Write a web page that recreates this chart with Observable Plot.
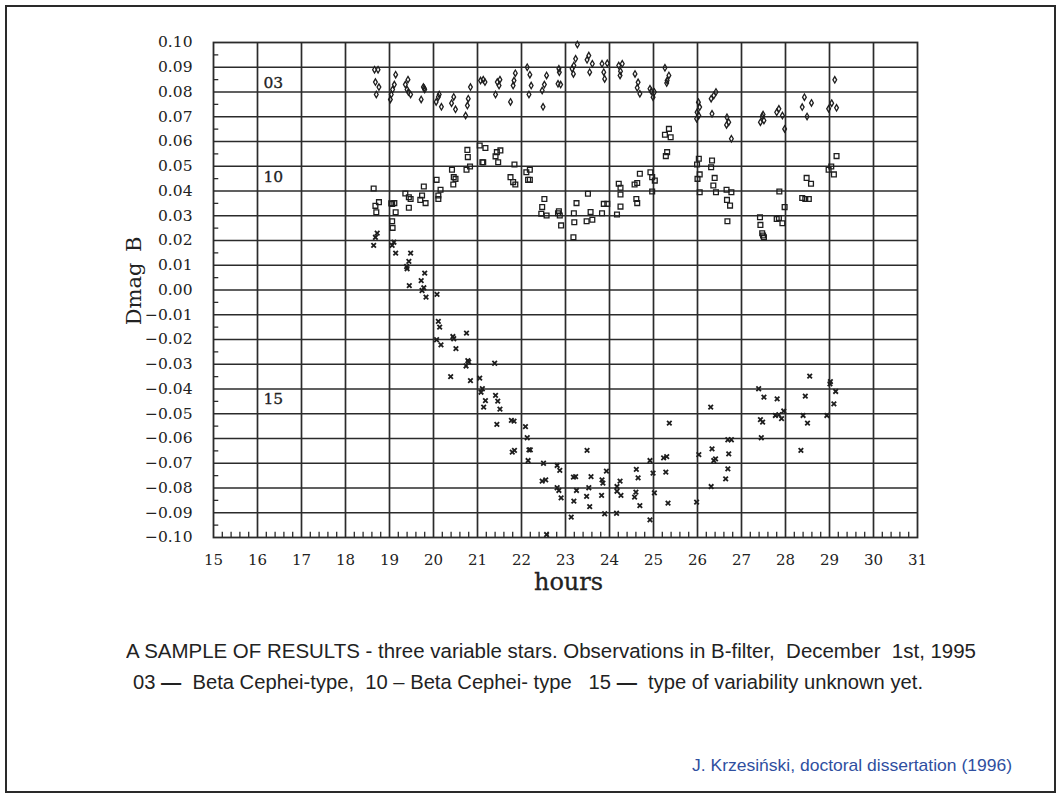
<!DOCTYPE html>
<html><head><meta charset="utf-8">
<script src="https://cdn.jsdelivr.net/npm/d3@7"></script>
<script src="https://cdn.jsdelivr.net/npm/@observablehq/plot@0.6"></script>
<style>
html,body{margin:0;padding:0;background:#fff;}
#page{position:relative;width:1062px;height:796px;overflow:hidden;background:#fff;}
#chart{position:absolute;left:0;top:0;}
#border{position:absolute;left:5px;top:5px;width:1047px;height:784px;border:2px solid #2a2a2a;}
.cap{position:absolute;white-space:pre;font-family:"Liberation Sans Narrow","Liberation Sans",Arial,sans-serif;line-height:1;transform-origin:0 0;}
</style></head>
<body>
<div id="page">
  <div id="chart"></div>
  <div id="border"></div>
  <div class="cap" data-w="850" style="left:126px;top:641px;font-size:20.5px;color:#222"><span>A SAMPLE OF RESULTS - three variable stars. Observations in B-filter,  December  1st, 1995</span></div>
  <div class="cap" data-w="790" style="left:133px;top:672px;font-size:20.5px;color:#222"><span>03 <b>—</b>  Beta Cephei-type,  10 – Beta Cephei- type   15 <b>—</b>  type of variability unknown yet.</span></div>
  <div class="cap" data-w="320" style="left:692px;top:757px;font-size:17px;color:#2f4f9f"><span>J. Krzesiński, doctoral dissertation (1996)</span></div>
</div>
<script>
// ---- Star 03 (Beta Cephei-type) : diamonds
const hours03 = [18.66,18.74,18.68,18.76,18.70,19.02,19.04,19.07,19.11,19.14,19.36,19.42,19.40,19.48,19.43,19.72,19.77,19.80,19.79,20.06,20.11,20.18,20.13,20.46,20.41,20.50,20.73,20.77,20.79,20.84,21.07,21.13,21.17,21.41,21.45,21.51,21.49,21.75,21.81,21.86,21.83,22.13,22.19,22.22,22.17,22.49,22.47,22.52,22.57,22.83,22.89,22.86,22.85,23.18,23.15,23.23,23.27,23.19,23.49,23.53,23.55,23.61,23.83,23.87,23.89,23.95,24.21,24.25,24.24,24.29,24.58,24.65,24.63,24.69,24.92,24.95,24.99,25.02,25.26,25.31,25.35,25.30,26.02,26.05,25.99,25.98,26.03,26.31,26.37,26.42,26.33,26.67,26.71,26.66,26.77,27.47,27.43,27.51,27.49,27.80,27.85,27.93,27.98,28.38,28.43,28.59,28.49,28.98,29.05,29.16,29.12];
const dmag03 = [0.089,0.089,0.084,0.082,0.079,0.077,0.079,0.081,0.083,0.087,0.083,0.085,0.081,0.079,0.080,0.077,0.082,0.081,0.0815,0.076,0.078,0.074,0.079,0.078,0.0755,0.073,0.0705,0.0745,0.0773,0.082,0.0846,0.085,0.084,0.079,0.084,0.085,0.0826,0.076,0.0826,0.0876,0.0846,0.090,0.087,0.0826,0.079,0.074,0.0806,0.083,0.0867,0.0833,0.083,0.088,0.0894,0.0873,0.0894,0.0934,0.0992,0.0907,0.093,0.0947,0.088,0.0914,0.0914,0.088,0.0853,0.0916,0.0907,0.0884,0.0867,0.0914,0.0873,0.0839,0.0817,0.0793,0.0813,0.0803,0.0779,0.080,0.0898,0.0846,0.0867,0.0836,0.0759,0.0739,0.0718,0.0692,0.0705,0.0773,0.0786,0.080,0.0712,0.0698,0.0678,0.0667,0.0611,0.0701,0.0678,0.0685,0.0709,0.0718,0.0732,0.0705,0.0651,0.0739,0.0779,0.0756,0.0701,0.0732,0.0755,0.0736,0.0849];

// ---- Star 10 (Beta Cephei-type) : squares
const hours10 = [18.64,18.76,18.68,18.70,19.04,19.06,19.11,19.14,19.06,19.07,19.36,19.48,19.44,19.44,19.78,19.74,19.82,19.70,20.07,20.16,20.11,20.11,20.45,20.42,20.46,20.50,20.77,20.78,20.75,20.83,21.05,21.18,21.11,21.13,21.41,21.44,21.52,21.47,21.84,21.75,21.81,21.86,22.11,22.19,22.15,22.19,22.52,22.47,22.45,22.57,22.85,22.87,22.90,22.83,23.19,23.20,23.18,23.25,23.51,23.57,23.61,23.48,23.83,23.87,23.95,24.17,24.25,24.21,24.25,24.25,24.57,24.63,24.69,24.61,24.63,24.93,24.97,25.03,24.97,25.35,25.26,25.39,25.31,25.28,26.03,25.99,26.05,26.00,26.05,26.33,26.31,26.39,26.36,26.42,26.66,26.77,26.67,26.74,26.68,27.42,27.43,27.47,27.51,27.49,27.80,27.85,27.93,27.98,27.86,28.48,28.58,28.38,28.45,28.53,29.16,28.98,29.04,29.10];
const dmag10 = [0.041,0.0355,0.034,0.0314,0.035,0.0348,0.0351,0.0314,0.0278,0.0251,0.039,0.0368,0.0375,0.0332,0.0418,0.0382,0.0351,0.0364,0.0445,0.0405,0.0382,0.0368,0.0426,0.0486,0.0456,0.0449,0.0566,0.0537,0.0486,0.0499,0.0584,0.0574,0.0516,0.0516,0.054,0.0557,0.0564,0.0516,0.0507,0.0456,0.0436,0.0426,0.0476,0.0486,0.0445,0.0445,0.0368,0.0335,0.0308,0.0301,0.0318,0.0301,0.0261,0.031,0.031,0.0274,0.0213,0.0351,0.0389,0.0315,0.0284,0.0278,0.031,0.0348,0.0348,0.0305,0.0337,0.0429,0.0413,0.0386,0.0426,0.0432,0.047,0.0368,0.0351,0.0476,0.0456,0.0442,0.0398,0.0651,0.0627,0.0617,0.0557,0.0541,0.053,0.0507,0.0467,0.0449,0.0395,0.0523,0.0496,0.0453,0.0422,0.0395,0.0405,0.0395,0.0364,0.0341,0.0278,0.0294,0.0263,0.0229,0.0213,0.022,0.0287,0.0291,0.027,0.0335,0.0398,0.0453,0.0429,0.0372,0.0368,0.0368,0.0541,0.0486,0.0499,0.0467];

// ---- Star 15 (variability unknown) : crosses
const hours15 = [18.64,18.68,18.72,19.06,19.10,19.14,19.48,19.44,19.39,19.40,19.80,19.72,19.45,19.74,19.78,19.83,20.08,20.11,20.14,20.07,20.17,20.44,20.46,20.75,20.51,20.78,20.80,20.74,20.39,20.84,21.39,21.05,21.11,21.08,21.18,21.14,21.41,21.46,21.51,21.44,21.77,21.83,21.79,21.84,22.09,22.13,22.17,22.20,22.15,22.50,22.47,22.55,22.81,22.87,22.81,22.85,22.90,22.57,23.18,23.23,23.13,23.19,23.25,23.49,23.58,23.53,23.48,23.55,23.83,23.85,23.82,23.93,23.89,24.17,24.24,24.17,24.26,24.16,24.61,24.65,24.60,24.57,24.69,24.92,24.99,25.02,24.92,25.23,25.30,25.28,25.36,25.33,26.03,25.98,26.30,26.33,26.37,26.41,26.31,26.69,26.77,26.71,26.69,26.64,27.39,27.51,27.81,27.43,27.48,27.45,27.77,27.85,27.91,27.96,28.45,28.40,28.50,28.35,28.55,28.94,29.10,29.14,29.01,29.02];
const dmag15 = [0.018,0.0213,0.023,0.018,0.0193,0.0149,0.0149,0.0116,0.0095,0.0086,0.0068,0.0038,0.0018,-0.0002,0.0009,-0.0029,-0.0018,-0.0127,-0.015,-0.0201,-0.0222,-0.0188,-0.0197,-0.0174,-0.0237,-0.0285,-0.0291,-0.0307,-0.035,-0.0366,-0.0296,-0.0356,-0.0399,-0.0413,-0.0447,-0.0473,-0.0426,-0.0449,-0.0481,-0.0543,-0.0527,-0.053,-0.0655,-0.0648,-0.0552,-0.0597,-0.0646,-0.0646,-0.0689,-0.070,-0.0772,-0.0767,-0.0709,-0.0729,-0.0799,-0.081,-0.084,-0.0988,-0.0756,-0.0754,-0.0918,-0.0853,-0.081,-0.0648,-0.0754,-0.0799,-0.0834,-0.0875,-0.0767,-0.078,-0.083,-0.0732,-0.0904,-0.0794,-0.0772,-0.0813,-0.083,-0.0902,-0.0725,-0.0759,-0.0817,-0.0837,-0.0871,-0.0689,-0.074,-0.082,-0.0929,-0.0678,-0.0673,-0.0736,-0.0538,-0.0861,-0.0665,-0.0857,-0.0473,-0.0642,-0.0689,-0.0682,-0.0794,-0.0605,-0.0605,-0.0662,-0.0723,-0.0763,-0.0399,-0.0433,-0.044,-0.0524,-0.0534,-0.0597,-0.0507,-0.0504,-0.052,-0.0489,-0.0429,-0.0507,-0.0538,-0.0648,-0.0348,-0.0507,-0.046,-0.041,-0.0379,-0.037];

// ---- in-plot star labels
const starLabels = ["03", "10", "15"];
const starLabelX = [16.36, 16.36, 16.36];
const starLabelY = [0.0838, 0.0455, -0.0442];

// ---- axes
const xTicks = d3.range(15, 32);
const yTicks = d3.range(-10, 11).map(i => i / 100);
const xGrid = d3.range(16, 31);
const yGrid = d3.range(-9, 10).map(i => i / 100);
const xMinor = d3.range(75, 155).filter(i => i % 5 !== 0).map(i => i / 5);
const yMinor = d3.range(-19, 20, 2).map(i => i / 200);

const toRows = (h, v) => h.map((x, i) => ({hour: x, dmag: v[i]}));
const d03 = toRows(hours03, dmag03);
const d10 = toRows(hours10, dmag10);
const d15 = toRows(hours15, dmag15);
const labels = starLabels.map((t, i) => ({t, x: starLabelX[i], y: starLabelY[i]}));

const lozenge = {
  draw(ctx, size) {
    const s = Math.sqrt(size) / 2;
    ctx.moveTo(0, -s * 1.45);
    ctx.lineTo(s * 0.85, 0);
    ctx.lineTo(0, s * 1.45);
    ctx.lineTo(-s * 0.85, 0);
    ctx.closePath();
  }
};

const ink = "#2b2b2b";
const serif = "DejaVu Serif";
const chart = Plot.plot({
  width: 1062,
  height: 600,
  marginLeft: 213,
  marginRight: 145,
  marginTop: 42,
  marginBottom: 63,
  x: {domain: [15, 31]},
  y: {domain: [-0.10, 0.10]},
  style: {fontFamily: serif, fontSize: "15px", color: "#222", background: "white"},
  marks: [
    Plot.ruleX(xGrid, {stroke: ink, strokeWidth: 1.7}),
    Plot.ruleY(yGrid, {stroke: ink, strokeWidth: 1.7}),
    Plot.ruleX(xMinor, {y1: -0.10, y2: -0.0979, stroke: ink, strokeWidth: 1.3}),
    Plot.ruleY(yMinor, {x1: 15, x2: 15.12, stroke: ink, strokeWidth: 1.3}),
    Plot.frame({stroke: ink, strokeWidth: 1.8}),
    Plot.axisX({ticks: xTicks, tickSize: 0, tickPadding: 17, tickFormat: d => String(d), label: null, fontFamily: serif, fontSize: 15, stroke: "#222", strokeWidth: 0.4}),
    Plot.axisY({ticks: yTicks, tickSize: 0, tickPadding: 21, tickFormat: d3.format(".2f"), label: null, fontFamily: serif, fontSize: 15.5, stroke: "#222", strokeWidth: 0.4}),
    Plot.dot(d03, {x: "hour", y: "dmag", symbol: lozenge, r: 2.5, stroke: "#1e1e1e", strokeWidth: 1.3, fill: "none"}),
    Plot.dot(d10, {x: "hour", y: "dmag", symbol: "square", r: 2.7, stroke: "#1e1e1e", strokeWidth: 1.3, fill: "none"}),
    Plot.dot(d15, {x: "hour", y: "dmag", symbol: "times", r: 2.2, stroke: "#1e1e1e", strokeWidth: 1.8}),
    Plot.text(labels, {x: "x", y: "y", text: "t", fontFamily: serif, fontSize: 15.5, fill: "#222", stroke: "#222", strokeWidth: 0.3}),
    Plot.text(["Dmag\u2002B"], {frameAnchor: "left", textAnchor: "middle", lineAnchor: "middle", dx: -79, dy: -9, rotate: -90, fontFamily: serif, fontSize: 21, fill: "#222"}),
    Plot.text(["hours"], {frameAnchor: "bottom", textAnchor: "middle", lineAnchor: "middle", dx: 3, dy: 45, fontFamily: serif, fontSize: 24, fill: "#222", stroke: "#222", strokeWidth: 0.3})
  ]
});
document.getElementById("chart").appendChild(chart);

function fitCaptions() {
  document.querySelectorAll(".cap").forEach(el => {
    el.style.transform = "none";
    const w = el.querySelector("span").getBoundingClientRect().width;
    if (w > 0) el.style.transform = `scaleX(${(+el.dataset.w) / w})`;
  });
}
fitCaptions();
if (document.fonts && document.fonts.ready) document.fonts.ready.then(fitCaptions);
</script>
</body></html>
